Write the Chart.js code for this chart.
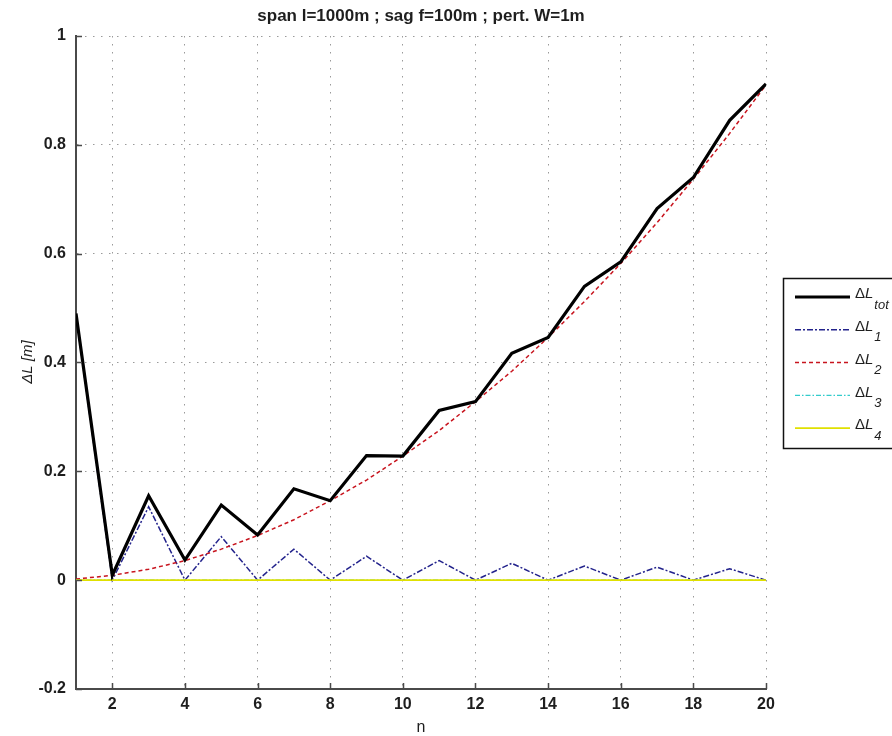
<!DOCTYPE html>
<html>
<head>
<meta charset="utf-8">
<title>Cable length change vs n</title>
<script src="https://cdn.jsdelivr.net/npm/chart.js@4/dist/chart.umd.min.js"></script>
<style>
  html, body { margin: 0; padding: 0; background: #ffffff; }
  #wrap { width: 892px; height: 736px; overflow: hidden; }
</style>
</head>
<body>
<div id="wrap"><canvas id="c" width="892" height="736"></canvas></div>
<script>
// mode number n
const nValues = [1, 2, 3, 4, 5, 6, 7, 8, 9, 10, 11, 12, 13, 14, 15, 16, 17, 18, 19, 20];
// length change components, in metres
const dLtot = [0.490, 0.009, 0.155, 0.037, 0.138, 0.083, 0.168, 0.146, 0.229, 0.228,
               0.312, 0.328, 0.417, 0.446, 0.540, 0.585, 0.683, 0.740, 0.845, 0.912];
const dL1   = [0.488, 0.000, 0.135, 0.000, 0.080, 0.000, 0.057, 0.000, 0.044, 0.000,
               0.036, 0.000, 0.031, 0.000, 0.026, 0.000, 0.024, 0.000, 0.021, 0.000];
const dL2   = [0.002, 0.009, 0.020, 0.036, 0.057, 0.082, 0.111, 0.146, 0.184, 0.228,
               0.275, 0.328, 0.384, 0.446, 0.512, 0.582, 0.657, 0.737, 0.821, 0.910];
const dL3   = [0, 0, 0, 0, 0, 0, 0, 0, 0, 0, 0, 0, 0, 0, 0, 0, 0, 0, 0, 0];
const dL4   = [0, 0, 0, 0, 0, 0, 0, 0, 0, 0, 0, 0, 0, 0, 0, 0, 0, 0, 0, 0];

const xTicks = [2, 4, 6, 8, 10, 12, 14, 16, 18, 20];
const yTicks = [-0.2, 0, 0.2, 0.4, 0.6, 0.8, 1];
const yTickLabels = ['-0.2', '0', '0.2', '0.4', '0.6', '0.8', '1'];

const seriesSubscripts = ['tot', '1', '2', '3', '4'];
const titleText = 'span l=1000m ; sag f=100m ; pert. W=1m';

const pts = arr => nValues.map((n, i) => ({ x: n, y: arr[i] }));

const FONT = '"Liberation Sans", Arial, Helvetica, sans-serif';
const AXIS_COLOR = '#4a4a4a';
const TEXT_COLOR = '#1e1e1e';

// axis decorations: inward tick marks, title, axis titles, legend box
const decorations = {
  id: 'decorations',
  afterDatasetsDraw(chart) {
    const ctx = chart.ctx;
    const { left, right, top, bottom } = chart.chartArea;
    const xs = chart.scales.x, ys = chart.scales.y;
    ctx.save();
    // inward tick marks
    ctx.strokeStyle = AXIS_COLOR;
    ctx.lineWidth = 1.5;
    ctx.beginPath();
    yTicks.forEach(v => {
      const py = Math.round(ys.getPixelForValue(v)) + 0.5;
      ctx.moveTo(left, py); ctx.lineTo(left + 6, py);
    });
    xTicks.forEach(v => {
      const px = Math.round(xs.getPixelForValue(v)) + 0.5;
      ctx.moveTo(px, bottom); ctx.lineTo(px, bottom - 6);
    });
    ctx.stroke();

    // title
    ctx.fillStyle = TEXT_COLOR;
    ctx.font = 'bold 17px ' + FONT;
    ctx.textAlign = 'center';
    ctx.textBaseline = 'middle';
    ctx.fillText(titleText, (left + right) / 2, 16);

    // x axis title
    ctx.font = '16px ' + FONT;
    ctx.fillText('n', (left + right) / 2, 728);

    // y axis title
    ctx.save();
    ctx.translate(28, 362);
    ctx.rotate(-Math.PI / 2);
    ctx.font = 'italic 15px ' + FONT;
    ctx.textAlign = 'center';
    ctx.fillText('\u0394L [m]', 0, 0);
    ctx.restore();

    // legend
    const bx = 783, by = 278, bw = 140, bh = 170;
    ctx.fillStyle = '#ffffff';
    ctx.fillRect(bx, by, bw, bh);
    ctx.strokeStyle = '#111';
    ctx.lineWidth = 1.5;
    ctx.strokeRect(bx + 0.5, by + 0.5, bw, bh);
    chart.data.datasets.forEach((ds, i) => {
      const ry = 297 + i * 32.8;
      ctx.save();
      ctx.strokeStyle = ds.borderColor;
      ctx.lineWidth = ds.borderWidth;
      ctx.setLineDash(ds.borderDash || []);
      ctx.beginPath();
      ctx.moveTo(795, ry); ctx.lineTo(850, ry);
      ctx.stroke();
      ctx.restore();
      ctx.fillStyle = TEXT_COLOR;
      ctx.textAlign = 'left';
      ctx.textBaseline = 'middle';
      ctx.font = '15px ' + FONT;
      ctx.fillText('\u0394', 855, ry - 3);
      const dw = ctx.measureText('\u0394').width;
      ctx.font = 'italic 15px ' + FONT;
      ctx.fillText('L', 855 + dw, ry - 3);
      const lw = ctx.measureText('L').width;
      ctx.font = 'italic 13px ' + FONT;
      ctx.fillText(seriesSubscripts[i], 856 + dw + lw, ry + 8);
    });
    ctx.restore();
  }
};

const gridDash = [1.5, 6.5];

new Chart(document.getElementById('c'), {
  type: 'line',
  data: {
    datasets: [
      { label: '\u0394L tot', data: pts(dLtot), borderColor: '#000000', borderWidth: 3.2,
        borderDash: [], order: 0 },
      { label: '\u0394L 1', data: pts(dL1), borderColor: '#23238c', borderWidth: 1.5,
        borderDash: [6, 2, 2, 2], order: 4 },
      { label: '\u0394L 2', data: pts(dL2), borderColor: '#c8141e', borderWidth: 1.5,
        borderDash: [4, 3], order: 3 },
      { label: '\u0394L 3', data: pts(dL3), borderColor: '#33cccc', borderWidth: 1.2,
        borderDash: [5, 2, 1.5, 2], order: 2 },
      { label: '\u0394L 4', data: pts(dL4), borderColor: '#e0e000', borderWidth: 1.8,
        borderDash: [], order: 1 }
    ]
  },
  options: {
    responsive: false,
    animation: false,
    devicePixelRatio: 1,
    layout: { padding: { left: 0, top: 36, right: 126, bottom: 0 } },
    elements: { point: { radius: 0 }, line: { tension: 0, fill: false } },
    plugins: { legend: { display: false }, title: { display: false }, tooltip: { enabled: false } },
    scales: {
      x: {
        type: 'linear', min: 1, max: 20,
        afterBuildTicks: s => { s.ticks = xTicks.map(v => ({ value: v })); },
        afterFit: s => { s.height = 47; },
        ticks: { color: TEXT_COLOR, font: { family: FONT, size: 16, weight: 'bold' }, padding: 6,
                 maxRotation: 0, autoSkip: false, callback: v => String(v) },
        grid: { color: '#9a9a9a', lineWidth: 1, drawTicks: false },
        border: { display: true, color: AXIS_COLOR, width: 2, dash: gridDash }
      },
      y: {
        type: 'linear', min: -0.2, max: 1,
        afterBuildTicks: s => { s.ticks = yTicks.map(v => ({ value: v })); },
        afterFit: s => { s.width = 76; },
        ticks: { color: TEXT_COLOR, font: { family: FONT, size: 16, weight: 'bold' }, padding: 10,
                 autoSkip: false, callback: (v, i) => yTickLabels[i] },
        grid: { color: '#9a9a9a', lineWidth: 1, drawTicks: false },
        border: { display: true, color: AXIS_COLOR, width: 2, dash: gridDash }
      }
    }
  },
  plugins: [decorations]
});
</script>
</body>
</html>
